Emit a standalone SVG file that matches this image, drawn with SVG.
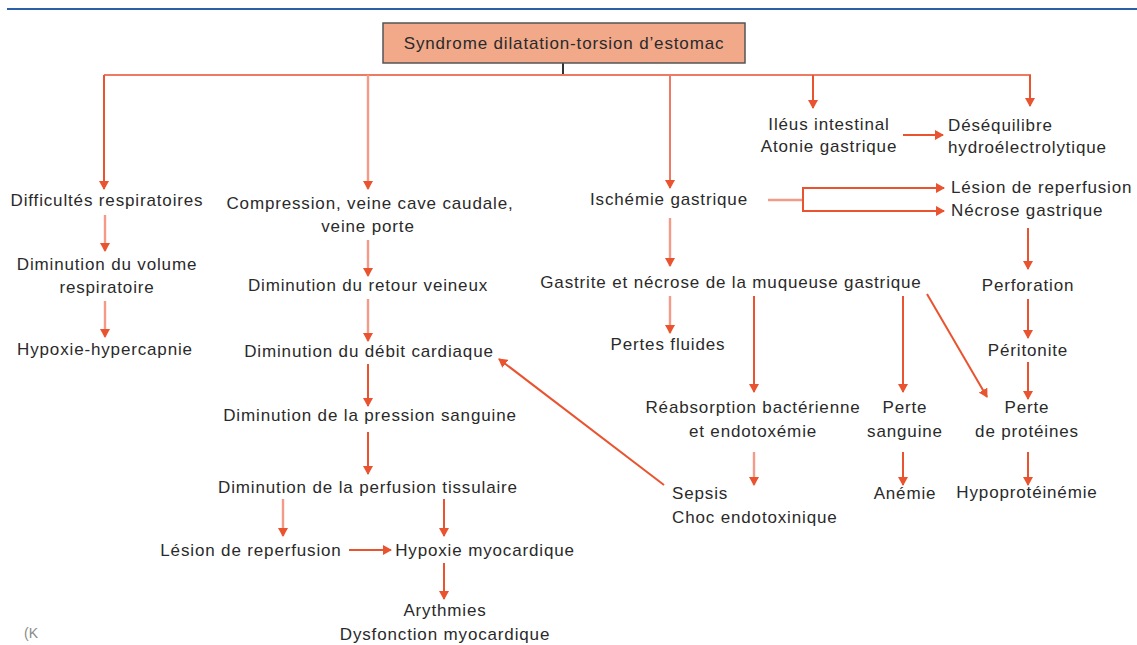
<svg xmlns="http://www.w3.org/2000/svg" width="1137" height="645" viewBox="0 0 1137 645">
<style>
text{font-family:"Liberation Sans",Arial,sans-serif;font-size:17px;letter-spacing:0.85px;fill:#2a2a2a}
.m{text-anchor:middle}
.s{stroke:#e9532f;stroke-width:2;fill:none}
.l{stroke:#f49a88;stroke-width:2.4;fill:none}
.md{stroke:#ef7a63;stroke-width:2;fill:none}
.a{marker-end:url(#ah)}
</style>
<defs>
<marker id="ah" markerWidth="9" markerHeight="10" refX="8" refY="5" orient="auto" markerUnits="userSpaceOnUse"><path d="M0,0 L9,5 L0,10 z" fill="#e9532f"/></marker>
</defs>
<rect width="1137" height="645" fill="#ffffff"/>
<line x1="7" y1="9" x2="1137" y2="9" stroke="#2b5fa8" stroke-width="2"/>

<g id="connectors">
<line x1="563" y1="63" x2="563" y2="75" stroke="#333" stroke-width="2"/>
<line class="md" x1="104" y1="75" x2="1031" y2="75"/>
<line class="s a" x1="104" y1="75" x2="104" y2="189"/>
<line class="l a" x1="368" y1="75" x2="368" y2="189"/>
<line class="md a" x1="670" y1="75" x2="670" y2="188"/>
<line class="s a" x1="813" y1="75" x2="813" y2="108"/>
<line class="s a" x1="1030" y1="75" x2="1030" y2="106"/>
<line class="l a" x1="105" y1="215" x2="105" y2="251"/>
<line class="l a" x1="105" y1="301" x2="105" y2="337"/>
<line class="l a" x1="368" y1="240" x2="368" y2="276"/>
<line class="l a" x1="368" y1="299" x2="368" y2="341"/>
<line class="s a" x1="368" y1="364" x2="368" y2="406"/>
<line class="s a" x1="368" y1="432" x2="368" y2="474"/>
<line class="l a" x1="283" y1="499" x2="283" y2="536"/>
<line class="s a" x1="444" y1="499" x2="444" y2="536"/>
<line class="s a" x1="349" y1="550" x2="391" y2="550"/>
<line class="s a" x1="444" y1="563" x2="444" y2="599"/>
<line class="s a" x1="664" y1="485" x2="499" y2="359"/>
<line class="l a" x1="670" y1="218" x2="670" y2="266"/>
<line class="l a" x1="670" y1="296" x2="670" y2="333"/>
<line class="l" x1="768" y1="200" x2="803" y2="200"/>
<line class="s" x1="803" y1="187" x2="803" y2="212"/>
<line class="s a" x1="802" y1="188" x2="944" y2="188"/>
<line class="s a" x1="802" y1="211" x2="944" y2="211"/>
<line class="s a" x1="903" y1="135" x2="943" y2="135"/>
<line class="s a" x1="754" y1="296" x2="754" y2="392"/>
<line class="s a" x1="903" y1="296" x2="903" y2="392"/>
<line class="s a" x1="927" y1="294" x2="987" y2="397"/>
<line class="l a" x1="754" y1="452" x2="754" y2="485"/>
<line class="s a" x1="903" y1="452" x2="903" y2="485"/>
<line class="s a" x1="1028" y1="452" x2="1028" y2="485"/>
<line class="s a" x1="1028" y1="228" x2="1028" y2="269"/>
<line class="s a" x1="1028" y1="299" x2="1028" y2="338"/>
<line class="s a" x1="1028" y1="362" x2="1028" y2="399"/>
</g>

<g id="n-root"><rect x="383" y="23" width="362" height="40" fill="#f1a98a" stroke="#555" stroke-width="1.5"/><text class="m" x="564" y="49">Syndrome dilatation-torsion d’estomac</text></g>
<g id="n-diff"><text class="m" x="107" y="206">Difficultés respiratoires</text></g>
<g id="n-vol"><text class="m" x="107" y="270">Diminution du volume</text><text class="m" x="107" y="293">respiratoire</text></g>
<g id="n-hypox"><text class="m" x="105" y="355">Hypoxie-hypercapnie</text></g>
<g id="n-comp"><text class="m" x="370" y="209">Compression, veine cave caudale,</text><text class="m" x="368" y="232">veine porte</text></g>
<g id="n-retour"><text class="m" x="368" y="291">Diminution du retour veineux</text></g>
<g id="n-debit"><text class="m" x="369" y="357">Diminution du débit cardiaque</text></g>
<g id="n-pression"><text class="m" x="370" y="421">Diminution de la pression sanguine</text></g>
<g id="n-perf"><text class="m" x="368" y="493">Diminution de la perfusion tissulaire</text></g>
<g id="n-lesion1"><text class="m" x="251" y="556">Lésion de reperfusion</text></g>
<g id="n-hypmyo"><text class="m" x="485" y="556">Hypoxie myocardique</text></g>
<g id="n-aryth"><text class="m" x="445" y="616">Arythmies</text><text class="m" x="445" y="640">Dysfonction myocardique</text></g>
<g id="n-isch"><text class="m" x="669" y="205">Ischémie gastrique</text></g>
<g id="n-gastrite"><text class="m" x="731" y="288">Gastrite et nécrose de la muqueuse gastrique</text></g>
<g id="n-fluides"><text class="m" x="668" y="350">Pertes fluides</text></g>
<g id="n-reab"><text class="m" x="753" y="413">Réabsorption bactérienne</text><text class="m" x="753" y="437">et endotoxémie</text></g>
<g id="n-sang"><text class="m" x="905" y="413">Perte</text><text class="m" x="905" y="437">sanguine</text></g>
<g id="n-prot"><text class="m" x="1027" y="413">Perte</text><text class="m" x="1027" y="437">de protéines</text></g>
<g id="n-sepsis"><text x="672" y="499">Sepsis</text><text x="672" y="523">Choc endotoxinique</text></g>
<g id="n-anemie"><text class="m" x="905" y="499">Anémie</text></g>
<g id="n-hypoprot"><text class="m" x="1027" y="498">Hypoprotéinémie</text></g>
<g id="n-ileus"><text class="m" x="829" y="130">Iléus intestinal</text><text class="m" x="829" y="152">Atonie gastrique</text></g>
<g id="n-deseq"><text x="948" y="131">Déséquilibre</text><text x="948" y="153">hydroélectrolytique</text></g>
<g id="n-lesion2"><text x="951" y="193">Lésion de reperfusion</text><text x="951" y="216">Nécrose gastrique</text></g>
<g id="n-perfo"><text class="m" x="1028" y="291">Perforation</text></g>
<g id="n-perit"><text class="m" x="1028" y="356">Péritonite</text></g>
<text x="24" y="638" style="font-size:14px;letter-spacing:0;fill:#8a8a8a">(K</text>
</svg>
